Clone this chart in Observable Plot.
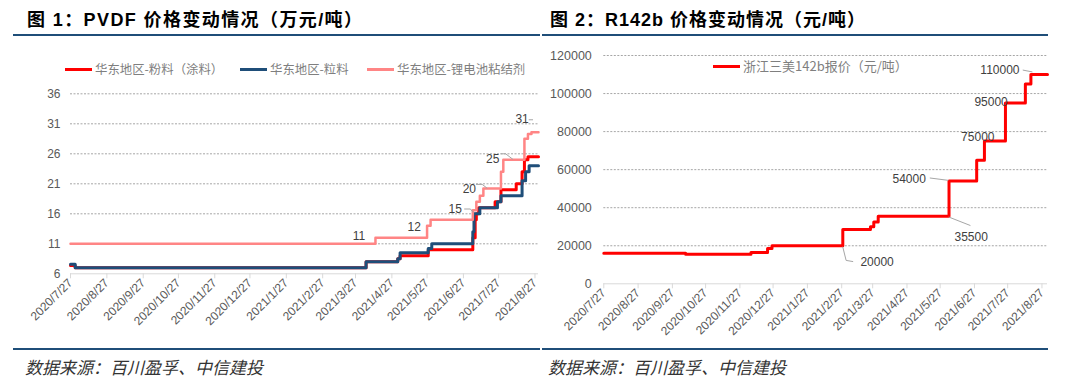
<!DOCTYPE html>
<html><head><meta charset="utf-8">
<script src="https://cdn.jsdelivr.net/npm/d3@7"></script>
<script src="https://cdn.jsdelivr.net/npm/@observablehq/plot@0.6"></script>
<style>
body{margin:0;width:1080px;height:385px;background:#fff;position:relative;overflow:hidden;font-family:"Liberation Sans",Arial,"Noto Sans CJK SC",sans-serif;}
.abs{position:absolute;}
.title{font-family:"Liberation Sans","Noto Sans CJK SC",sans-serif;font-weight:bold;font-size:18px;letter-spacing:1px;line-height:20px;color:#000;white-space:nowrap;}
.rule{height:2px;background:#1F4E79;}
.src{font-family:"Noto Sans CJK SC",sans-serif;font-style:italic;font-size:17px;line-height:20px;color:#333;white-space:nowrap;}
.leg{font-family:"Noto Sans CJK SC",sans-serif;font-size:12px;line-height:14px;color:#7f7f7f;white-space:nowrap;display:flex;align-items:center;}
.sw{display:inline-block;width:27px;height:3px;margin-right:3px;}
svg{overflow:visible;}
</style></head><body>
<script>
// ---------- data: figure 1 (PVDF, 万元/吨) ----------
const leftTitle = "图 1：PVDF 价格变动情况（万元/吨）";
const rightTitle = "图 2：R142b 价格变动情况（元/吨）";
const sourceText = "数据来源：百川盈孚、中信建投";

const pvdfSeriesNames = ["华东地区-粉料（涂料）", "华东地区-粒料", "华东地区-锂电池粘结剂"];
const pvdfSeriesColors = ["#ff0000", "#1f4e79", "#ff8585"];
const pvdfTickDates = ["2020-07-27","2020-08-27","2020-09-27","2020-10-27","2020-11-27","2020-12-27","2021-01-27","2021-02-27","2021-03-27","2021-04-27","2021-05-27","2021-06-27","2021-07-27","2021-08-27"];
const pvdfEndDate = "2021-08-30";
const pvdfYTicks = [6, 11, 16, 21, 26, 31, 36];

const powderDates  = ["2020-07-27","2020-07-31","2021-04-05","2021-05-02","2021-05-04","2021-05-28","2021-07-05","2021-07-07","2021-07-08","2021-07-10","2021-07-24","2021-07-29","2021-08-11","2021-08-16","2021-08-18","2021-08-21"];
const powderValues = [7.4, 7, 8, 8.5, 9, 10, 12, 15, 16, 17, 18, 20, 21, 23, 25, 25.5];

const pelletDates  = ["2020-07-27","2020-07-31","2021-04-05","2021-05-02","2021-05-04","2021-05-28","2021-05-31","2021-07-05","2021-07-06","2021-07-11","2021-07-26","2021-07-29","2021-08-16","2021-08-19","2021-08-22"];
const pelletValues = [7.6, 7, 8, 8.5, 9.5, 10.2, 11, 13, 16, 17, 18, 19, 21.5, 23, 24];

const binderDates  = ["2020-07-27","2021-04-13","2021-05-27","2021-05-30","2021-07-05","2021-07-08","2021-07-11","2021-07-14","2021-07-29","2021-07-31","2021-08-18","2021-08-21","2021-08-24"];
const binderValues = [11, 12, 14, 15, 16.6, 18, 19, 20.2, 23, 25, 28.5, 29.3, 29.6];

const pvdfLabelTexts  = ["11", "12", "15", "20", "25", "31"];
const pvdfLabelDates  = ["2021-03-30","2021-05-16","2021-06-20","2021-07-02","2021-07-22","2021-08-16"];
const pvdfLabelValues = [12.3, 13.7, 16.7, 20.05, 25.05, 31.7];
// leader lines (each a short polyline)
const pvdfLeaderIds    = [0, 0, 0, 1, 1, 1, 2, 2, 2, 3, 3];
const pvdfLeaderDates  = ["2021-06-28","2021-07-03","2021-07-05","2021-07-08","2021-07-13","2021-07-17","2021-07-29","2021-08-02","2021-08-08","2021-08-22","2021-08-25"];
const pvdfLeaderValues = [16.8, 16.8, 16.3, 20.9, 20.9, 20.3, 26, 26, 25.1, 31.67, 31.67];

// ---------- data: figure 2 (R142b, 元/吨) ----------
const r142bName = "浙江三美142b报价（元/吨）";
const r142bTickDates = pvdfTickDates;
const r142bEndDate = "2021-09-01";
const r142bYTicks = [0, 20000, 40000, 60000, 80000, 100000, 120000];
const r142bDates  = ["2020-07-27","2020-10-09","2020-12-07","2020-12-22","2020-12-26","2021-02-28","2021-03-25","2021-03-28","2021-04-01","2021-06-04","2021-06-29","2021-07-06","2021-07-25","2021-08-12","2021-08-17"];
const r142bValues = [16000, 15500, 16500, 18500, 20000, 28500, 30000, 32500, 35500, 54000, 65000, 75000, 95000, 105000, 110000];

const r142bLabelTexts  = ["20000", "35500", "54000", "75000", "95000", "110000"];
const r142bLabelDates  = ["2021-03-31","2021-06-24","2021-04-29","2021-06-30","2021-07-12","2021-07-20"];
const r142bLabelValues = [11400, 24500, 54900, 77200, 95600, 112300];
const r142bLeaderIds    = [0, 0, 0, 1, 1, 2, 2, 3, 3];
const r142bLeaderDates  = ["2021-02-28","2021-03-03","2021-03-09","2021-06-04","2021-06-23","2021-05-18","2021-06-03","2021-08-10","2021-08-18"];
const r142bLeaderValues = [19300, 12300, 11700, 35050, 30700, 55600, 54400, 112300, 111400];
</script>
<script>
const parse = d3.utcParse("%Y-%m-%d");
const fmt = d3.utcFormat("%Y/%-m/%-d");
function mk(dates, values, end){
  const a = dates.map((d,i)=>({date: parse(d), value: values[i]}));
  a.push({date: parse(end), value: values[values.length-1]});
  return a;
}
function pts(ids, dates, values){ return ids.map((id,i)=>({id, date: parse(dates[i]), value: values[i]})); }
function lbls(texts, dates, values){ return texts.map((t,i)=>({text:t, date: parse(dates[i]), value: values[i]})); }

function add(html, style, cls){ const d=document.createElement("div"); d.className="abs "+(cls||""); d.style.cssText=style; d.textContent=html; document.body.appendChild(d); return d; }

// titles, rules, sources
add(leftTitle, "left:27px;top:10px;letter-spacing:1.4px;", "title");
add(rightTitle, "left:550px;top:10px;", "title");
add("", "left:13px;top:34px;width:527px;", "rule");
add("", "left:542px;top:34px;width:506px;", "rule");
add("", "left:13px;top:348px;width:527px;", "rule");
add("", "left:542px;top:348px;width:506px;", "rule");
add(sourceText, "left:25px;top:357px;", "src");
add(sourceText, "left:548px;top:357px;", "src");

// legends
function legend(x, y, color, name, fs){
  const d = document.createElement("div"); d.className="abs leg"; d.style.left=x+"px"; d.style.top=(y-7)+"px";
  if (fs) d.style.fontSize = fs + "px";
  const s = document.createElement("span"); s.className="sw"; s.style.background=color; d.appendChild(s);
  const t = document.createElement("span"); t.textContent=name; d.appendChild(t);
  document.body.appendChild(d);
}
legend(65, 69, pvdfSeriesColors[0], pvdfSeriesNames[0], 12.4);
legend(240, 69, pvdfSeriesColors[1], pvdfSeriesNames[1], 12.4);
legend(367, 69, pvdfSeriesColors[2], pvdfSeriesNames[2], 12.4);
legend(713, 66, "#ff0000", r142bName, 13);

const axisStyle = {fontFamily: "'Liberation Sans', Arial, sans-serif", fontSize: "12px", background: "transparent", overflow: "visible"};

// ---- left chart ----
const powder = mk(powderDates, powderValues, pvdfEndDate);
const pellet = mk(pelletDates, pelletValues, pvdfEndDate);
const binder = mk(binderDates, binderValues, pvdfEndDate);
const leftTicks = pvdfTickDates.map(parse);
const left = Plot.plot({
  width: 540, height: 305,
  marginLeft: 70, marginRight: 2, marginTop: 53.3, marginBottom: 71.7,
  style: axisStyle,
  x: {type: "utc", domain: [parse(pvdfTickDates[0]), parse(pvdfEndDate)]},
  y: {domain: [6, 36]},
  marks: [
    Plot.ruleY(pvdfYTicks.filter(v => v > 6), {stroke: "#8f8f8f", strokeWidth: 0.8, strokeDasharray: "2,1.5"}),
    Plot.ruleY([6], {stroke: "#d9d9d9", strokeWidth: 1}),
    Plot.axisX(leftTicks, {tickFormat: fmt, tickRotate: -45, tickSize: 5, tickPadding: 2, stroke: "#d9d9d9", fill: "#595959", fontSize: 12, label: null}),
    Plot.axisY(pvdfYTicks, {tickSize: 0, tickPadding: 10, fill: "#595959", fontSize: 12, label: null}),
    Plot.line(powder, {x: "date", y: "value", curve: "step-after", stroke: pvdfSeriesColors[0], strokeWidth: 3}),
    Plot.line(pellet, {x: "date", y: "value", curve: "step-after", stroke: pvdfSeriesColors[1], strokeWidth: 3}),
    Plot.line(binder, {x: "date", y: "value", curve: "step-after", stroke: pvdfSeriesColors[2], strokeWidth: 2.5}),
    Plot.line(pts(pvdfLeaderIds, pvdfLeaderDates, pvdfLeaderValues), {x: "date", y: "value", z: "id", stroke: "#a6a6a6", strokeWidth: 1}),
    Plot.text(lbls(pvdfLabelTexts, pvdfLabelDates, pvdfLabelValues), {x: "date", y: "value", text: "text", fill: "#404040", fontSize: 12})
  ]
});
left.style.position = "absolute"; left.style.left = "0px"; left.style.top = "40px";
document.body.appendChild(left);

// ---- right chart ----
const r142b = mk(r142bDates, r142bValues, r142bEndDate);
const right = Plot.plot({
  width: 540, height: 305,
  marginLeft: 63.3, marginRight: 33, marginTop: 15, marginBottom: 61.7,
  style: axisStyle,
  x: {type: "utc", domain: [parse(r142bTickDates[0]), parse(r142bEndDate)]},
  y: {domain: [0, 120000]},
  marks: [
    Plot.ruleY(r142bYTicks.filter(v => v > 0), {stroke: "#8f8f8f", strokeWidth: 0.8, strokeDasharray: "2,1.5"}),
    Plot.ruleY([0], {stroke: "#d9d9d9", strokeWidth: 1}),
    Plot.axisX(r142bTickDates.map(parse), {tickFormat: fmt, tickRotate: -45, tickSize: 5, tickPadding: 2, stroke: "#d9d9d9", fill: "#595959", fontSize: 12, label: null}),
    Plot.axisY(r142bYTicks, {tickFormat: d3.format("d"), tickSize: 0, tickPadding: 12, fill: "#595959", fontSize: 12.5, label: null}),
    Plot.line(r142b, {x: "date", y: "value", curve: "step-after", stroke: "#ff0000", strokeWidth: 3}),
    Plot.line(pts(r142bLeaderIds, r142bLeaderDates, r142bLeaderValues), {x: "date", y: "value", z: "id", stroke: "#a6a6a6", strokeWidth: 1}),
    Plot.text(lbls(r142bLabelTexts, r142bLabelDates, r142bLabelValues), {x: "date", y: "value", text: "text", fill: "#404040", fontSize: 12})
  ]
});
right.style.position = "absolute"; right.style.left = "540px"; right.style.top = "40px";
document.body.appendChild(right);
</script>
</body></html>
